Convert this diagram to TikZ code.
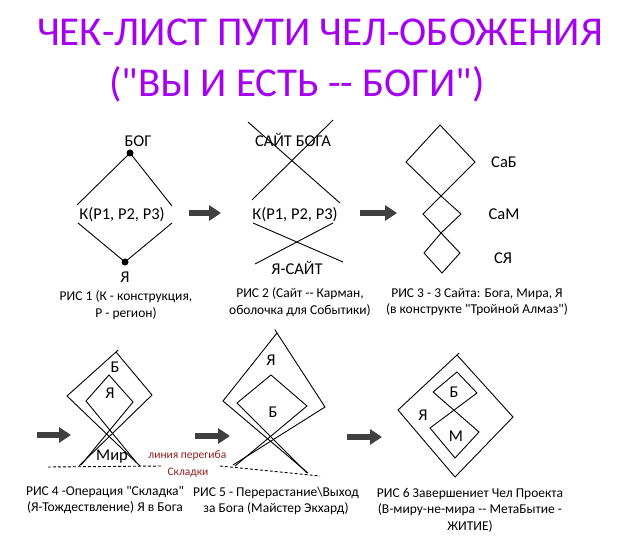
\documentclass[tikz,border=0pt]{standalone}
\usepackage{fontspec}
\newfontfamily\crl{Carlito}
\setmainfont{Carlito}
\usetikzlibrary{arrows.meta,calc}
\definecolor{ttl}{RGB}{165,0,240}
\definecolor{arr}{RGB}{64,64,64}
\definecolor{fold}{RGB}{150,30,30}
\begin{document}
\begin{tikzpicture}[x=1pt,y=-1pt,line width=0.9pt,
  ttltext/.style={text=ttl,font=\crl\fontsize{41}{46}\selectfont,inner sep=0},
  lbl/.style={font=\crl\fontsize{16.5}{19}\selectfont,inner sep=0},
  captxt/.style={font=\crl\fontsize{13.5}{16.5}\selectfont,align=center,inner sep=0},
  foldlbl/.style={text=fold,font=\crl\fontsize{11.5}{14}\selectfont,inner sep=0},
  bigarrow/.style={arr,line width=6.5pt,-{Triangle[length=12pt,width=15pt]}},
  dotv/.style={circle,fill=black,inner sep=0,minimum size=7pt},
  foldline/.style={dash pattern=on 3pt off 2pt}]
\useasboundingbox (0,0) rectangle (640,537);
\fill[white] (0,0) rectangle (640,537);
% title
\node[ttltext] (t1) at (320,32) {ЧЕК-ЛИСТ ПУТИ ЧЕЛ-ОБОЖЕНИЯ};
\node[ttltext] (t2) at (297,84) {("ВЫ И ЕСТЬ {-}{-} БОГИ")};
% ---------- Fig 1
\node[dotv] (f1top) at (130,153) {};
\node[dotv] (f1bot) at (125,262) {};
\coordinate (f1ul) at (77,205);
\coordinate (f1ur) at (172,206);
\coordinate (f1ll) at (78,223);
\coordinate (f1lr) at (172,223);
\draw (f1ul) -- (f1top.center) -- (f1ur);
\draw (f1ll) -- (f1bot.center) -- (f1lr);
\node[lbl] (f1god) at (138,141) {БОГ};
\node[lbl] (f1k) at (122,215) {К(Р1, Р2, Р3)};
\node[lbl] (f1me) at (125,277) {Я};
\node[captxt] (c1) at (126,305) {РИС 1 (К - конструкция,\\Р - регион)};
% arrows row 1
\coordinate (a1s) at (189,213); \coordinate (a1e) at (221,213);
\draw[bigarrow] (a1s) -- (a1e);
\coordinate (a2s) at (360,213); \coordinate (a2e) at (397,213);
\draw[bigarrow] (a2s) -- (a2e);
% ---------- Fig 2
\node[lbl] (f2god) at (293,140) {САЙТ БОГА};
\node[lbl] (f2k) at (295,215) {К(Р1, Р2, Р3)};
\node[lbl] (f2me) at (297,268) {Я-САЙТ};
\coordinate (f2a) at (248,122); \coordinate (f2b) at (340,203);
\coordinate (f2c) at (333,120); \coordinate (f2d) at (252,200);
\coordinate (f2e) at (253,223); \coordinate (f2f) at (343,262);
\coordinate (f2g) at (333,223); \coordinate (f2h) at (255,264);
\draw (f2a) -- (f2b); \draw (f2c) -- (f2d);
\draw (f2e) -- (f2f); \draw (f2g) -- (f2h);
\node[captxt] (c2) at (300,302) {РИС 2 (Сайт {-}{-} Карман,\\оболочка для Событики)};
% ---------- Fig 3
\coordinate (f3t) at (440,125); \coordinate (f3l1) at (406,162);
\coordinate (f3r1) at (475,162); \coordinate (f3m1) at (441,196);
\coordinate (f3l2) at (423,214); \coordinate (f3r2) at (461,214);
\coordinate (f3m2) at (441,233); \coordinate (f3l3) at (424,253);
\coordinate (f3r3) at (460,253); \coordinate (f3b) at (442,273);
\draw (f3t) -- (f3l1) -- (f3m1) -- (f3r1) -- cycle;
\draw (f3m1) -- (f3l2) -- (f3m2) -- (f3r2) -- cycle;
\draw (f3m2) -- (f3l3) -- (f3b) -- (f3r3) -- cycle;
\node[lbl] (f3sab) at (504,162) {СаБ};
\node[lbl] (f3sam) at (504,214) {СаМ};
\node[lbl] (f3sya) at (503,258) {СЯ};
\node[captxt] (c3) at (477,302) {РИС 3 - 3 Сайта: Бога, Мира, Я\\(в конструкте "Тройной Алмаз")};
% arrows row 2
\coordinate (a3s) at (37,435); \coordinate (a3e) at (71,435);
\draw[bigarrow] (a3s) -- (a3e);
\coordinate (a4s) at (195,436); \coordinate (a4e) at (230,436);
\draw[bigarrow] (a4s) -- (a4e);
\coordinate (a5s) at (347,437); \coordinate (a5e) at (382,437);
\draw[bigarrow] (a5s) -- (a5e);
% ---------- Fig 4
\coordinate (f4ot) at (116,352); \coordinate (f4ol) at (67,396);
\coordinate (f4or) at (152,395);
\coordinate (f4ole) at (140,466); \coordinate (f4ore) at (79,466);
\coordinate (f4it) at (109,375); \coordinate (f4il) at (86,401);
\coordinate (f4ir) at (133,402);
\coordinate (f4ile) at (136,462); \coordinate (f4ire) at (81,465);
\draw (f4ole) -- (f4ol) -- ($(f4ot)!-3pt!(f4ol)$);
\draw (f4ore) -- (f4or) -- (f4ot);
\draw (f4ile) -- (f4il) -- (f4it) -- (f4ir) -- (f4ire);
\coordinate (f4dl) at (48,467); \coordinate (f4dr) at (163,466);
\draw[foldline] (f4dl) -- (f4dr);
\node[lbl] (f4b) at (115,367) {Б};
\node[lbl] (f4ya) at (110,393) {Я};
\node[lbl] (f4mir) at (112,457) {Мир};
\node[foldlbl,anchor=west] (f4fold1) at (148,456) {линия перегиба};
\node[foldlbl] (f4fold2) at (188,473) {Складки};
\node[captxt] (c4) at (105,500) {РИС 4 -Операция "Складка"\\(Я-Тождествление) Я в Бога};
% ---------- Fig 5
\coordinate (f5ot) at (277,333); \coordinate (f5ol) at (223,401);
\coordinate (f5or) at (325,407);
\coordinate (f5ole) at (308,473); \coordinate (f5ore) at (233,465);
\coordinate (f5it) at (271,375); \coordinate (f5il) at (237,403);
\coordinate (f5ir) at (307,406);
\coordinate (f5ile) at (307,473); \coordinate (f5ire) at (235,466);
\draw (f5ole) -- (f5ol) -- (f5ot);
\draw (f5ore) -- (f5or) -- ($(f5ot)!-4pt!(f5or)$);
\draw (f5ile) -- (f5il) -- (f5it) -- (f5ir) -- (f5ire);
\coordinate (f5dl) at (220,466); \coordinate (f5dr) at (320,476);
\draw[foldline] (f5dl) -- (f5dr);
\node[lbl] (f5ya) at (271,360) {Я};
\node[lbl] (f5b) at (273,412) {Б};
\node[captxt] (c5) at (276,501) {РИС 5 - Перерастание\textbackslash Выход\\за Бога (Майстер Экхард)};
% ---------- Fig 6
\coordinate (f6ot) at (457,355); \coordinate (f6ol) at (398,410);
\coordinate (f6or) at (513,417); \coordinate (f6ob) at (455,477);
\draw ($(f6ot)!-3pt!(f6ol)$) -- (f6ol) -- (f6ob) -- (f6or) -- (f6ot);
\coordinate (f6ut) at (457,372); \coordinate (f6ul) at (433,392);
\coordinate (f6ur) at (477,393); \coordinate (f6c) at (454,411);
\coordinate (f6ll) at (430,428); \coordinate (f6lr) at (479,432);
\coordinate (f6lb) at (455,458);
\draw (f6ul) -- (f6ut) -- (f6ur);
\draw (f6ur) -- (f6ll) -- (f6lb) -- (f6lr) -- (f6ul);
\node[lbl] (f6b) at (454,392) {Б};
\node[lbl] (f6ya) at (423,415) {Я};
\node[lbl] (f6m) at (456,436) {М};
\node[captxt] (c6) at (470,510) {РИС 6 Завершениет Чел Проекта\\(В-миру-не-мира {-}{-} МетаБытие -\\ЖИТИЕ)};
\end{tikzpicture}
\end{document}
